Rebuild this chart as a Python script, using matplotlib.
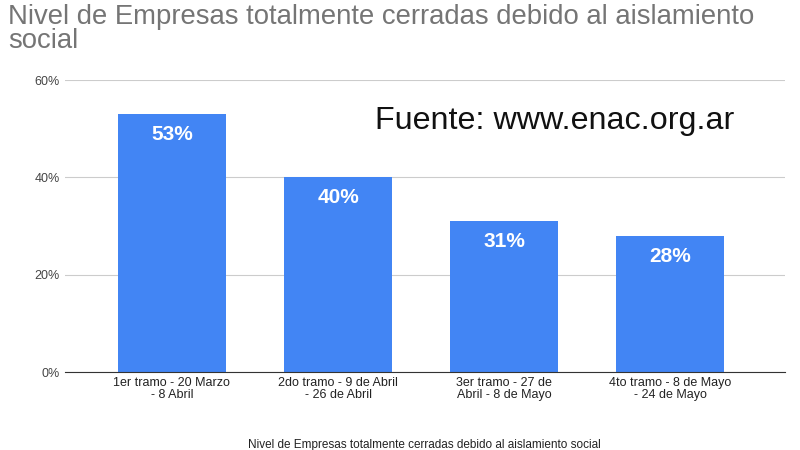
import matplotlib
matplotlib.use("Agg")
import matplotlib.pyplot as plt

categories = ["1er tramo - 20 Marzo\n- 8 Abril", "2do tramo - 9 de Abril\n- 26 de Abril",
              "3er tramo - 27 de\nAbril - 8 de Mayo", "4to tramo - 8 de Mayo\n- 24 de Mayo"]
values = [53, 40, 31, 28]
labels = ["53%", "40%", "31%", "28%"]
yticks = [0, 20, 40, 60]

plt.rcParams['font.family'] = ['Liberation Sans', 'DejaVu Sans']
fig = plt.figure(figsize=(8, 4.5), dpi=100)
ax = fig.add_axes([0.081, 0.173, 0.9, 0.649])
x = range(len(values))
ax.bar(x, values, width=0.65, color="#4285f4", zorder=2)
for i, (v, l) in enumerate(zip(values, labels)):
    ax.text(i, v - 2.2, l, ha="center", va="top", color="white", fontsize=15, fontweight="bold")
ax.set_xlim(-0.645, 3.69)
ax.set_ylim(0, 60)
ax.set_yticks(yticks)
ax.set_yticklabels([f"{t}%" for t in yticks], color="#444444", fontsize=9)
ax.set_xticks(list(x))
ax.set_xticklabels(categories, fontsize=9, color="#222222", linespacing=0.95)
ax.tick_params(length=0)
ax.grid(axis="y", color="#cccccc", linewidth=0.8, zorder=0)
for s in ["top", "right", "left"]:
    ax.spines[s].set_visible(False)
ax.spines["bottom"].set_color("#333333")
ax.set_xlabel("Nivel de Empresas totalmente cerradas debido al aislamiento social", fontsize=8.5, color="#222222", labelpad=28)
fig.text(0.01, 0.99, "Nivel de Empresas totalmente cerradas debido al aislamiento\nsocial",
         ha="left", va="top", fontsize=19.8, color="#757575", linespacing=0.85)
ax.text(0.431, 0.86, "Fuente: www.enac.org.ar", transform=ax.transAxes, fontsize=23.2, color="#111111", va="center")
fig.savefig("out.png", dpi=100)
